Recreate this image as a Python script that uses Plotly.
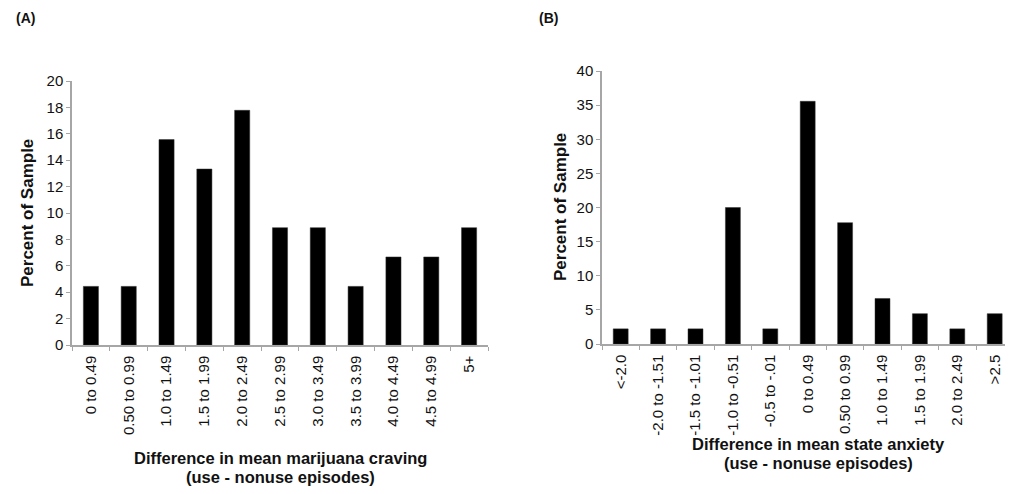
import plotly.graph_objects as go

# page is 1013x494; browser body has an 8px margin, so the figure is shrunk
OFF = 8
W, H = 1013 - 2 * OFF, 494 - 2 * OFF

cats_a = ["0 to 0.49", "0.50 to 0.99", "1.0 to 1.49", "1.5 to 1.99", "2.0 to 2.49",
          "2.5 to 2.99", "3.0 to 3.49", "3.5 to 3.99", "4.0 to 4.49", "4.5 to 4.99", "5+"]
vals_a = [4.44, 4.44, 15.56, 13.33, 17.78, 8.89, 8.89, 4.44, 6.67, 6.67, 8.89]

cats_b = ["<-2.0", "-2.0 to -1.51", "-1.5 to -1.01", "-1.0 to -0.51", "-0.5 to -.01",
          "0 to 0.49", "0.50 to 0.99", "1.0 to 1.49", "1.5 to 1.99", "2.0 to 2.49", ">2.5"]
vals_b = [2.22, 2.22, 2.22, 20.0, 2.22, 35.56, 17.78, 6.67, 4.44, 2.22, 4.44]

yticks_a = [0, 2, 4, 6, 8, 10, 12, 14, 16, 18, 20]
yticks_b = [0, 5, 10, 15, 20, 25, 30, 35, 40]

FONT = "Liberation Sans, Arial, sans-serif"
AX = "#a6a6a6"

fig = go.Figure()
fig.add_trace(go.Bar(x=cats_a, y=vals_a, xaxis="x", yaxis="y",
                     marker=dict(color="black", line=dict(color="#333", width=0.5)),
                     showlegend=False))
fig.add_trace(go.Bar(x=cats_b, y=vals_b, xaxis="x2", yaxis="y2",
                     marker=dict(color="black", line=dict(color="#333", width=0.5)),
                     showlegend=False))

def px(x):
    return (x - OFF) / W

def py(y):
    return 1 - (y - OFF) / H

common_x = dict(type="category", showline=True, linecolor=AX, linewidth=1.5,
                ticks="outside", ticklen=4, tickcolor=AX, tickson="boundaries",
                tickangle=-90, showgrid=False, zeroline=False, automargin=False,
                ticklabelstandoff=3,
                tickfont=dict(family=FONT, size=15, color="#111"))
common_y = dict(showline=True, linecolor=AX, linewidth=1.5, ticks="outside",
                ticklen=4, tickcolor=AX, showgrid=False, zeroline=False, automargin=False,
                tickfont=dict(family=FONT, size=15, color="#111"))

cw_b = 37.4
fig.update_layout(
    width=W, height=H,
    margin=dict(l=0, r=0, t=0, b=0),
    plot_bgcolor="white", paper_bgcolor="white",
    bargap=0.6,
    xaxis=dict(domain=[px(72), px(488)], anchor="y", range=[-0.5, 10.5], **common_x),
    yaxis=dict(domain=[py(345), py(81)], anchor="x", range=[0, 20],
               tickvals=yticks_a, **common_y),
    xaxis2=dict(domain=[px(602), 1.0], anchor="y2",
                range=[-0.5, -0.5 + (W + OFF - 602) / cw_b], **common_x),
    yaxis2=dict(domain=[py(344), py(71)], anchor="x2", range=[0, 40],
                tickvals=yticks_b, **common_y),
)

def ann(text, x, y, angle=0, size=16.5):
    fig.add_annotation(text=text, x=px(x), y=py(y), xref="paper", yref="paper",
                       showarrow=False, textangle=angle, xanchor="center", yanchor="middle",
                       font=dict(family=FONT, size=size, color="#111"))

ann("<b>(A)</b>", 25, 18, size=14)
ann("<b>(B)</b>", 548, 18, size=14)
ann("<b>Percent of Sample</b>", 27, 213, angle=-90, size=17)
ann("<b>Percent of Sample</b>", 560, 207, angle=-90, size=17)
ann("<b>Difference in mean marijuana craving</b>", 280, 458)
ann("<b>(use - nonuse episodes)</b>", 280, 477)
ann("<b>Difference in mean state anxiety</b>", 818, 444)
ann("<b>(use - nonuse episodes)</b>", 818, 463)

fig.write_html("out.html")
